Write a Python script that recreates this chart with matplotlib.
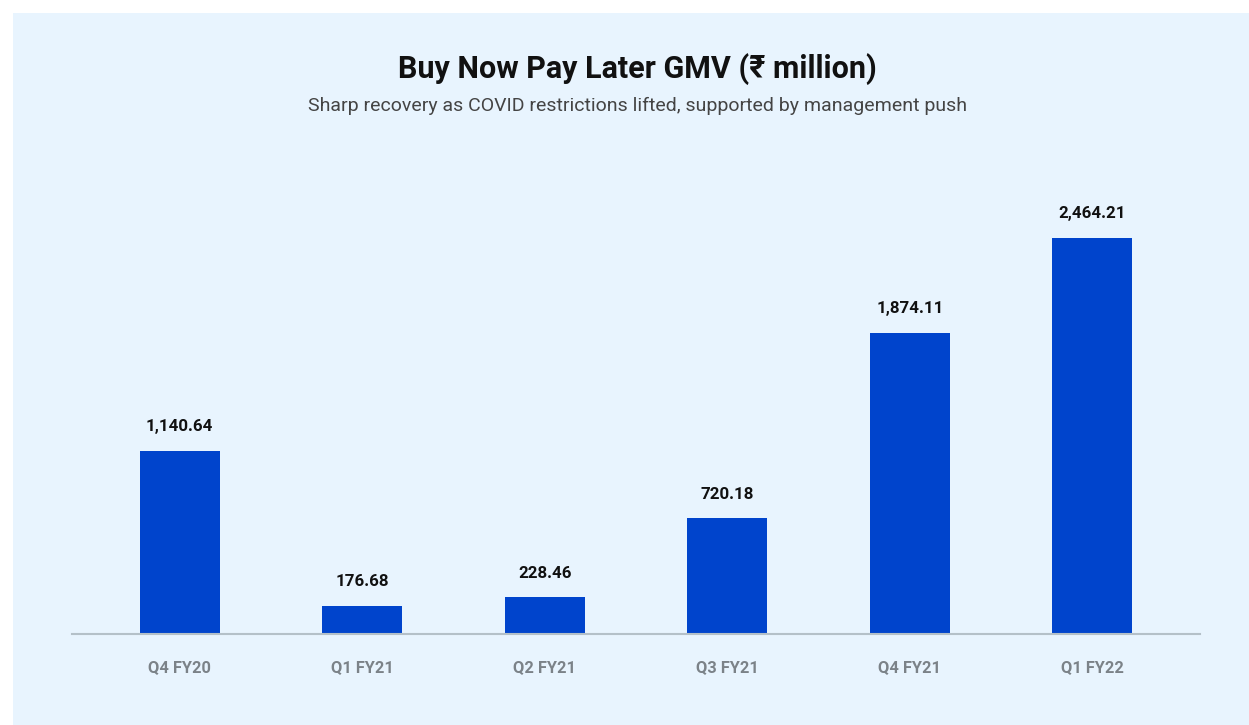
"""Buy Now Pay Later GMV bar chart."""
import matplotlib
matplotlib.use('Agg')
import matplotlib.pyplot as plt
from matplotlib.patches import Rectangle

quarters = ['Q4 FY20', 'Q1 FY21', 'Q2 FY21', 'Q3 FY21', 'Q4 FY21', 'Q1 FY22']
gmv = [1140.64, 176.68, 228.46, 720.18, 1874.11, 2464.21]

BG = '#E8F4FE'
BAR = '#0044CC'

plt.rcParams['font.family'] = ['Roboto', 'DejaVu Sans']

fig = plt.figure(figsize=(12.49, 7.25), dpi=100, facecolor='white')
fig.patches.append(Rectangle((13 / 1249, 0), 1 - 13 / 1249, 1 - 13 / 725,
                             transform=fig.transFigure, facecolor=BG,
                             edgecolor='none', zorder=-10))

ax = fig.add_axes([72 / 1249, 91 / 725, 1128 / 1249, 464 / 725])
ax.set_facecolor('none')

x = range(len(quarters))
bars = ax.bar(x, gmv, width=0.44, color=BAR, zorder=2)
for xi, v in zip(x, gmv):
    ax.annotate(f'{v:,.2f}', (xi, v), xytext=(0, 12), textcoords='offset points',
                ha='center', va='bottom', fontsize=12.2, fontweight='bold',
                color='#111111')

ax.set_xlim(-0.59, 5.59)
ax.set_ylim(0, 2887)
ax.set_xticks(list(x))
ax.set_xticklabels(quarters, fontsize=11.8, fontweight='bold', color='#7B8288')
ax.tick_params(axis='x', length=0, pad=19)
ax.set_yticks([])
for s in ['top', 'right', 'left']:
    ax.spines[s].set_visible(False)
ax.spines['bottom'].set_color('#B4C0C8')
ax.spines['bottom'].set_linewidth(1.5)

fig.text(637 / 1249, 1 - 69 / 725, 'Buy Now Pay Later GMV (₹ million)',
         ha='center', va='center', fontsize=22, fontweight='bold', color='#111111')
fig.text(637 / 1249, 1 - 106 / 725,
         'Sharp recovery as COVID restrictions lifted, supported by management push',
         ha='center', va='center', fontsize=14, color='#444444')

fig.savefig('out.png', dpi=100, facecolor='white')
